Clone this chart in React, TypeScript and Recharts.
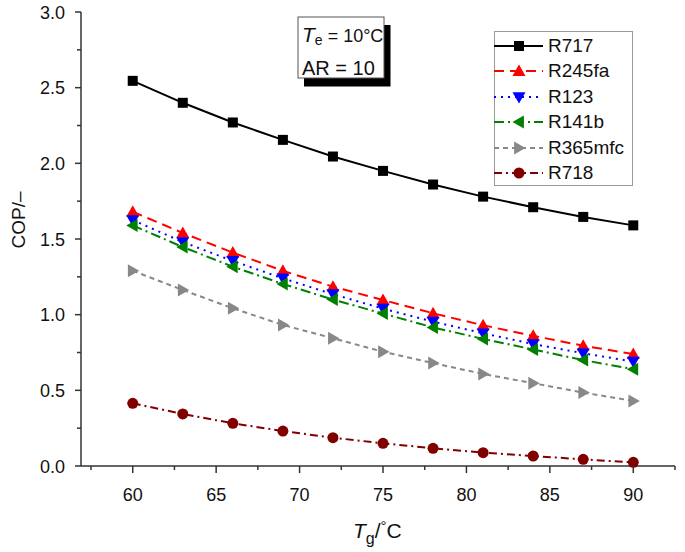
import React from "react";
import { LineChart, Line, XAxis, YAxis, Legend, Label } from "recharts";

const temps = [60, 63, 66, 69, 72, 75, 78, 81, 84, 87, 90];
const r717 = [2.545, 2.4, 2.27, 2.155, 2.045, 1.95, 1.86, 1.78, 1.71, 1.646, 1.59];
const r245fa = [1.68, 1.54, 1.41, 1.29, 1.185, 1.097, 1.009, 0.93, 0.86, 0.795, 0.74];
const r123 = [1.625, 1.48, 1.355, 1.24, 1.135, 1.04, 0.954, 0.877, 0.806, 0.745, 0.69];
const r141b = [1.59, 1.447, 1.317, 1.203, 1.1, 1.007, 0.916, 0.84, 0.77, 0.7, 0.64];
const r365mfc = [1.29, 1.163, 1.042, 0.932, 0.844, 0.755, 0.68, 0.608, 0.547, 0.485, 0.43];
const r718 = [0.414, 0.344, 0.282, 0.231, 0.187, 0.15, 0.117, 0.088, 0.066, 0.044, 0.024];

const xTicks = [57.5, 60, 62.5, 65, 67.5, 70, 72.5, 75, 77.5, 80, 82.5, 85, 87.5, 90, 92.5];
const xLabels = [60, 65, 70, 75, 80, 85, 90];
const yTicks = [0, 0.25, 0.5, 0.75, 1, 1.25, 1.5, 1.75, 2, 2.25, 2.5, 2.75, 3];
const yLabels = [0, 0.5, 1, 1.5, 2, 2.5, 3];

const data = temps.map((t, i) => ({
  t,
  R717: r717[i],
  R245fa: r245fa[i],
  R123: r123[i],
  R141b: r141b[i],
  R365mfc: r365mfc[i],
  R718: r718[i],
}));

const FONT = "'Liberation Sans', Arial, Helvetica, sans-serif";
const AXIS = "#333";

type Shape = "square" | "up" | "down" | "left" | "right" | "circle";

function marker(shape: Shape, cx: number, cy: number, color: string, key?: any) {
  const s = 6.5;
  switch (shape) {
    case "square":
      return <rect key={key} x={cx - 5} y={cy - 5} width={10} height={10} fill={color} />;
    case "up":
      return <polygon key={key} points={`${cx},${cy - s} ${cx - s},${cy + s * 0.75} ${cx + s},${cy + s * 0.75}`} fill={color} />;
    case "down":
      return <polygon key={key} points={`${cx},${cy + s} ${cx - s},${cy - s * 0.75} ${cx + s},${cy - s * 0.75}`} fill={color} />;
    case "left":
      return <polygon key={key} points={`${cx - s},${cy} ${cx + s * 0.75},${cy - s} ${cx + s * 0.75},${cy + s}`} fill={color} />;
    case "right":
      return <polygon key={key} points={`${cx + s},${cy} ${cx - s * 0.75},${cy - s} ${cx - s * 0.75},${cy + s}`} fill={color} />;
    default:
      return <circle key={key} cx={cx} cy={cy} r={5.5} fill={color} />;
  }
}

const series: { key: string; color: string; dash?: string; shape: Shape }[] = [
  { key: "R717", color: "#000000", shape: "square" },
  { key: "R245fa", color: "#ff0000", dash: "10 6", shape: "up" },
  { key: "R123", color: "#0000ff", dash: "2 5", shape: "down" },
  { key: "R141b", color: "#008000", dash: "10 4 2 4", shape: "left" },
  { key: "R365mfc", color: "#888888", dash: "5 4", shape: "right" },
  { key: "R718", color: "#800000", dash: "8 4 2 4", shape: "circle" },
];

const XTick = (props: any) => {
  const { x, y, payload } = props;
  const major = xLabels.includes(payload.value);
  return (
    <g>
      <line x1={x} y1={y} x2={x} y2={y + (major ? 7 : 4)} stroke={AXIS} strokeWidth={1.5} />
      {major && (
        <text x={x} y={y + 35} textAnchor="middle" fontSize={18} fontFamily={FONT} fill="#111">
          {payload.value}
        </text>
      )}
    </g>
  );
};

const YTick = (props: any) => {
  const { x, y, payload } = props;
  const major = yLabels.includes(payload.value);
  return (
    <g>
      <line x1={x} y1={y} x2={x - (major ? 6 : 4)} y2={y} stroke={AXIS} strokeWidth={1.5} />
      {major && (
        <text x={x - 16} y={y + 6.5} textAnchor="end" fontSize={18} fontFamily={FONT} fill="#111">
          {payload.value.toFixed(1)}
        </text>
      )}
    </g>
  );
};

const LegendBox = () => (
  <div
    style={{
      width: 139,
      height: 155,
      border: "1px solid #999",
      background: "#fff",
      boxSizing: "border-box",
      fontFamily: FONT,
      fontSize: 19,
      position: "relative",
    }}
  >
    {series.map((s, i) => (
      <div key={s.key} style={{ position: "absolute", left: -1, top: 1 + i * 25.5, height: 25, display: "flex", alignItems: "center" }}>
        <svg width={52} height={20} style={{ overflow: "visible" }}>
          <line x1={0} y1={10} x2={49} y2={10} stroke={s.color} strokeWidth={2} strokeDasharray={s.dash} />
          {marker(s.shape, 25, 10, s.color)}
        </svg>
        <span style={{ color: "#111", marginLeft: 2 }}>{s.key}</span>
      </div>
    ))}
  </div>
);

export default function App() {
  return (
    <div style={{ position: "absolute", left: 0, top: 0, width: 685, height: 552, background: "#fff" }}>
      <LineChart width={685} height={552} data={data} margin={{ top: 12, right: 10, left: 0, bottom: 0 }}>
        <XAxis
          dataKey="t"
          type="number"
          domain={[56.9, 92.5]}
          ticks={xTicks}
          interval={0}
          tickSize={0}
          tickMargin={0}
          tick={<XTick />}
          height={86}
          stroke={AXIS}
          strokeWidth={1.5}
          allowDataOverflow
        >
          <Label
            content={(p: any) => {
              const vb = p.viewBox;
              const cx = vb.x + vb.width / 2;
              return (
                <text x={cx - 25} y={vb.y + 72} fontSize={21} fontFamily={FONT} fill="#111">
                  <tspan fontStyle="italic">T</tspan>
                  <tspan fontSize={16} dy={6}>g</tspan>
                  <tspan dy={-6}>/</tspan>
                  <tspan fontSize={15} dy={-7}>°</tspan>
                  <tspan dy={7}>C</tspan>
                </text>
              );
            }}
          />
        </XAxis>
        <YAxis
          type="number"
          domain={[0, 3]}
          ticks={yTicks}
          interval={0}
          tickSize={0}
          tickMargin={0}
          tick={<YTick />}
          width={81}
          stroke={AXIS}
          strokeWidth={1.5}
        >
          <Label
            content={() => (
              <text
                x={25}
                y={220}
                transform="rotate(-90 25 220)"
                textAnchor="middle"
                fontSize={19}
                fontFamily={FONT}
                fill="#111"
              >
                COP/–
              </text>
            )}
          />
        </YAxis>
        <Legend
          layout="vertical"
          verticalAlign="middle"
          align="center"
          content={<LegendBox />}
          wrapperStyle={{ position: "absolute", top: 31, left: 494, width: 139, height: 155 }}
        />
        {series.map((s) => (
          <Line
            key={s.key}
            dataKey={s.key}
            type="linear"
            stroke={s.color}
            strokeWidth={2}
            strokeDasharray={s.dash}
            isAnimationActive={false}
            dot={(p: any) => marker(s.shape, p.cx, p.cy, s.color, p.index)}
            activeDot={false}
          />
        ))}
      </LineChart>
      <svg width={685} height={552} style={{ position: "absolute", left: 0, top: 0, pointerEvents: "none" }}>
        <rect x={304} y={25} width={86.5} height={61.5} fill="#000" />
        <rect x={298} y={17} width={86} height={61} fill="#fff" stroke="#555" strokeWidth={1} />
        <text x={302} y={42} fontFamily={FONT} fill="#111" fontSize={18}>
          <tspan fontStyle="italic" fontSize={21}>T</tspan>
          <tspan fontSize={14} dy={3}>e</tspan>
          <tspan dy={-3}> = 10°C</tspan>
        </text>
        <text x={302} y={75} fontFamily={FONT} fill="#111" fontSize={20}>
          AR = 10
        </text>
      </svg>
    </div>
  );
}
